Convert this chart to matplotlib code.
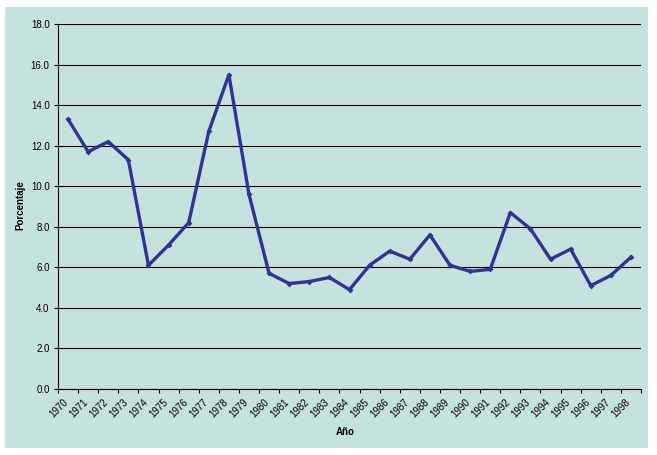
import numpy as np
import matplotlib.pyplot as plt
from matplotlib.patches import Rectangle
from matplotlib.transforms import ScaledTranslation

# Data
years = [str(y) for y in range(1970, 1999)]
porcentaje = [13.3, 11.7, 12.2, 11.3, 6.1, 7.1, 8.2, 12.7, 15.5, 9.6,
              5.7, 5.2, 5.3, 5.5, 4.9, 6.1, 6.8, 6.4, 7.6, 6.1,
              5.8, 5.9, 8.7, 7.9, 6.4, 6.9, 5.1, 5.6, 6.5]
yticks = [0, 2, 4, 6, 8, 10, 12, 14, 16, 18]

bg = '#c5e2df'
line_col = '#2e3591'

plt.rcParams['font.family'] = ['Liberation Sans', 'DejaVu Sans']

fig = plt.figure(figsize=(6.57, 4.55), dpi=100, facecolor='white')
# teal chart area inside the white border
fig.patches.append(Rectangle((5/657, 1 - 448/455), 643/657, 441/455,
                             transform=fig.transFigure, facecolor=bg,
                             edgecolor='none', zorder=-10))

ax = fig.add_axes([58/657, 1 - 389/455, 583/657, 365/455])
ax.set_facecolor(bg)
ax.set_zorder(1)

x = np.arange(len(years))
ax.plot(x, porcentaje, color=line_col, linewidth=2.4, marker='D',
        markersize=3, markeredgewidth=0, zorder=3)

ax.set_xlim(-0.5, len(years) - 0.5)
ax.set_ylim(0, 18)

# y axis
ax.set_yticks(yticks)
ax.set_yticklabels([f'{v:.1f}' for v in yticks], fontsize=7)
ax.yaxis.grid(True, color='black', linewidth=0.8)
ax.set_axisbelow(True)

# x axis: tick marks between categories, labels at centers
ax.set_xticks(np.arange(-0.5, len(years), 1.0))
ax.set_xticklabels([])
ax.set_xticks(x, minor=True)
ax.set_xticklabels(years, minor=True, rotation=45, ha='right',
                   rotation_mode='anchor', fontsize=7)
ax.tick_params(axis='x', which='minor', length=0, pad=6)
ax.tick_params(axis='x', which='major', length=3, width=0.8, direction='out')
ax.tick_params(axis='y', length=3, width=0.8, direction='out', pad=3)

shift = ScaledTranslation(-4/72, 0, fig.dpi_scale_trans)
for lab in ax.get_xticklabels(minor=True):
    lab.set_transform(lab.get_transform() + shift)

for s in ['top', 'right']:
    ax.spines[s].set_visible(False)
for s in ['left', 'bottom']:
    ax.spines[s].set_linewidth(0.8)
    ax.spines[s].set_color('black')

fig.text(345/657, 1 - 432/455, 'Año', fontsize=7, fontweight='bold',
         ha='center', va='center')
fig.text(20/657, 1 - 205/455, 'Porcentaje', fontsize=7, fontweight='bold',
         ha='center', va='center', rotation=90)

fig.savefig('out.png', dpi=100, facecolor='white')
